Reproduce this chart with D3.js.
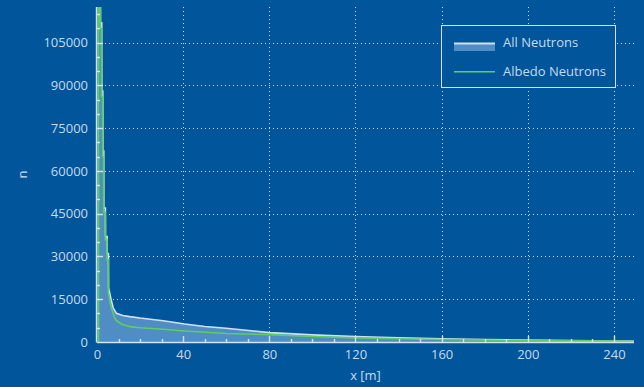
<!DOCTYPE html>
<html>
<head>
<meta charset="utf-8">
<script src="https://cdn.jsdelivr.net/npm/d3@7"></script>
<style>
  html, body { margin: 0; padding: 0; background: #01559b; }
  svg { display: block; }
  text { font-family: "Open Sans", "Noto Sans", sans-serif; }
</style>
</head>
<body>
<svg id="chart" width="644" height="387"></svg>
<script>
// Distance from source (m) and neutron counts for each series
const allX = [0, 1.6, 1.65, 2.2, 2.25, 2.7, 2.75, 3.15, 3.2, 3.9, 3.95, 4.7, 4.75, 5.3, 5.4, 6.5, 7.5, 9, 12, 15.2, 20, 30.7, 40.7, 50, 60, 80, 100, 120, 140, 160, 180, 200, 220, 240, 249.3];
const allN = [130000, 130000, 112000, 112000, 88000, 88000, 67000, 67000, 47000, 47000, 37000, 37000, 31000, 31000, 19000, 15000, 12000, 10080, 9300, 8900, 8400, 7480, 6320, 5450, 4800, 3300, 2500, 1900, 1450, 1100, 850, 650, 480, 360, 320];

const albedoX = [0.7, 0.7, 1.5, 1.55, 2.1, 2.15, 2.6, 2.65, 3.05, 3.1, 3.85, 3.9, 4.6, 4.65, 5.25, 5.3, 6.5, 8, 9, 11.3, 15.2, 20, 30.7, 40.7, 50.8, 60, 80, 100, 120, 140, 160, 180, 200, 220, 240, 249.3];
const albedoN = [0, 130000, 130000, 110000, 110000, 86000, 86000, 65000, 65000, 45500, 45500, 35800, 35800, 28800, 28800, 17200, 12500, 8800, 7480, 6320, 5380, 5000, 4460, 3860, 3400, 3000, 2600, 1950, 1450, 1150, 880, 650, 470, 380, 310, 280];

const xTicks = [0, 40, 80, 120, 160, 200, 240];
const yTicks = [0, 15000, 30000, 45000, 60000, 75000, 90000, 105000];
const seriesNames = ["All Neutrons", "Albedo Neutrons"];

const colors = {
  bg: "#01559b",
  axis: "#d3e3f2",
  text: "#c6dbef",
  grid: "#c9dcef",
  fill: "#4f8dc4",
  fillEdge: "#cfe2f3",
  green: "#5dcf5f"
};

const svg = d3.select("#chart");
const W = 644, H = 387;
const plot = { left: 97, right: 634, top: 7, bottom: 342 };

svg.append("rect").attr("width", W).attr("height", H).attr("fill", colors.bg);

const x = d3.scaleLinear().domain([0, 249.3]).range([plot.left, plot.right]);
const y = d3.scaleLinear().domain([0, 117500]).range([plot.bottom, plot.top]);

// dotted grid at major ticks
const grid = svg.append("g").attr("stroke", colors.grid).attr("stroke-width", 1)
  .attr("stroke-dasharray", "1,3");
grid.selectAll("line.gx").data(xTicks.filter(d => d > 0)).join("line")
  .attr("x1", d => Math.round(x(d)) + 0.5).attr("x2", d => Math.round(x(d)) + 0.5)
  .attr("y1", plot.top).attr("y2", plot.bottom);
grid.selectAll("line.gy").data(yTicks.filter(d => d > 0)).join("line")
  .attr("x1", plot.left).attr("x2", plot.right)
  .attr("y1", d => Math.round(y(d)) + 0.5).attr("y2", d => Math.round(y(d)) + 0.5);

// clip data to the plot area
svg.append("clipPath").attr("id", "plotClip").append("rect")
  .attr("x", plot.left).attr("y", plot.top)
  .attr("width", plot.right - plot.left).attr("height", plot.bottom - plot.top);

const allData = allX.map((v, i) => [v, allN[i]]);
const albedoData = albedoX.map((v, i) => [v, albedoN[i]]);

const gData = svg.append("g").attr("clip-path", "url(#plotClip)");

gData.append("path").datum(allData)
  .attr("fill", colors.fill)
  .attr("d", d3.area().x(d => x(d[0])).y0(y(0)).y1(d => y(d[1])));
gData.append("path").datum(allData)
  .attr("fill", "none").attr("stroke", colors.fillEdge).attr("stroke-width", 1.6)
  .attr("d", d3.line().x(d => x(d[0])).y(d => y(d[1])));
gData.append("path").datum(albedoData)
  .attr("fill", "none").attr("stroke", colors.green).attr("stroke-width", 1.6)
  .attr("d", d3.line().x(d => x(d[0])).y(d => y(d[1])));

// axes
const xAxis = d3.axisBottom(x).tickValues(xTicks).tickSize(0).tickPadding(8);
const gx = svg.append("g").attr("transform", `translate(0,${plot.bottom})`).call(xAxis);
gx.select(".domain").remove();
gx.selectAll("text").attr("fill", colors.text).attr("font-size", 13)
  .attr("font-family", "'Open Sans', sans-serif");

const yAxis = d3.axisLeft(y).tickValues(yTicks).tickFormat(d3.format("d")).tickSize(0).tickPadding(9);
const gy = svg.append("g").attr("transform", `translate(${plot.left},0)`).call(yAxis);
gy.select(".domain").remove();
gy.selectAll("text").attr("fill", colors.text).attr("font-size", 13)
  .attr("font-family", "'Open Sans', sans-serif");

// axis lines and inward ticks
const ax = svg.append("g").attr("stroke", colors.axis).attr("stroke-width", 1.4);
ax.append("line").attr("x1", plot.left).attr("x2", plot.right)
  .attr("y1", plot.bottom + 0.5).attr("y2", plot.bottom + 0.5);
ax.append("line").attr("x1", plot.left - 0.5).attr("x2", plot.left - 0.5)
  .attr("y1", plot.top).attr("y2", plot.bottom + 0.5);

const xMinor = d3.range(10, 250, 10);
ax.selectAll("line.xt").data(xMinor).join("line")
  .attr("x1", d => Math.round(x(d)) + 0.5).attr("x2", d => Math.round(x(d)) + 0.5)
  .attr("y1", plot.bottom).attr("y2", d => plot.bottom - (d % 40 === 0 ? 6 : 3));
const yMinor = d3.range(5000, 117500, 5000);
ax.selectAll("line.yt").data(yMinor).join("line")
  .attr("y1", d => Math.round(y(d)) + 0.5).attr("y2", d => Math.round(y(d)) + 0.5)
  .attr("x1", plot.left).attr("x2", d => plot.left + (d % 15000 === 0 ? 6 : 3));

// axis titles
svg.append("text").attr("x", (plot.left + plot.right) / 2).attr("y", 380)
  .attr("text-anchor", "middle").attr("fill", colors.text).attr("font-size", 13)
  .text("x [m]");
svg.append("text").attr("transform", `translate(27,${(plot.top + plot.bottom) / 2}) rotate(-90)`)
  .attr("text-anchor", "middle").attr("fill", colors.text).attr("font-size", 13)
  .text("n");

// legend
const lg = svg.append("g");
lg.append("rect").attr("x", 441.5).attr("y", 25.5).attr("width", 174).attr("height", 62)
  .attr("fill", colors.bg).attr("stroke", colors.axis).attr("stroke-width", 1);
lg.append("rect").attr("x", 454).attr("y", 43).attr("width", 41).attr("height", 8)
  .attr("fill", colors.fill);
lg.append("line").attr("x1", 454).attr("x2", 495).attr("y1", 43.5).attr("y2", 43.5)
  .attr("stroke", colors.fillEdge).attr("stroke-width", 2);
lg.append("rect").attr("x", 454).attr("y", 71).attr("width", 41).attr("height", 1.5)
  .attr("fill", colors.green);
lg.selectAll("text.lt").data(seriesNames).join("text")
  .attr("x", 503).attr("y", (d, i) => 46.5 + i * 29)
  .attr("fill", colors.text).attr("font-size", 13).text(d => d);
</script>
</body>
</html>
